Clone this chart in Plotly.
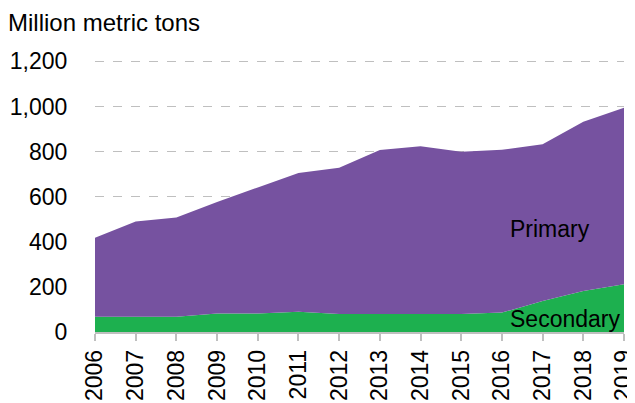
import plotly.graph_objects as go

years = [2006, 2007, 2008, 2009, 2010, 2011, 2012, 2013, 2014, 2015, 2016, 2017, 2018, 2019]
secondary = [68, 68, 68, 82, 82, 90, 80, 80, 80, 80, 86, 137, 182, 212]
primary = [350, 422, 440, 495, 559, 615, 648, 727, 744, 719, 722, 696, 750, 782]
y_ticks = [0, 200, 400, 600, 800, 1000, 1200]
y_tick_labels = ["0", "200", "400", "600", "800", "1,000", "1,200"]

FONT = "Liberation Sans, Arial, sans-serif"
FS = 23
W, H = 627, 395  # page body has an 8px offset
fig = go.Figure()
fig.add_trace(go.Scatter(x=years, y=secondary, stackgroup="one", mode="lines",
                         line=dict(width=0, color="#1DB04F"), fillcolor="#1DB04F",
                         name="Secondary"))
fig.add_trace(go.Scatter(x=years, y=primary, stackgroup="one", mode="lines",
                         line=dict(width=0, color="#7652A0"), fillcolor="#7652A0",
                         name="Primary"))

fig.update_layout(
    width=W, height=H,
    margin=dict(l=87, r=11, t=50, b=71, autoexpand=False),
    paper_bgcolor="white", plot_bgcolor="white",
    showlegend=False,
    font=dict(family=FONT, size=FS, color="#000000"),
    title=dict(text="Million metric tons", x=0, xanchor="left", xref="container",
               y=1-15/H, yanchor="middle", yref="container",
               font=dict(family=FONT, size=24, color="#000000")),
    xaxis=dict(range=[2006, 2019], tickvals=years, ticktext=[str(y) for y in years],
               tickangle=-90, showgrid=False, showline=True, linecolor="#BFBFBF",
               linewidth=1.5, ticks="outside", ticklen=7, tickcolor="#BFBFBF",
               tickwidth=1.5, zeroline=False, fixedrange=True, automargin=False,
               ticklabeloverflow="allow",
               tickfont=dict(family=FONT, size=FS, color="#000000")),
    yaxis=dict(range=[0, 1215], tickvals=y_ticks, ticktext=y_tick_labels,
               showgrid=True, gridcolor="#BFBFBF", griddash="dash", gridwidth=1,
               zeroline=False, showline=False, ticks="outside", ticklen=0,
               ticklabelstandoff=22, automargin=False,
               tickfont=dict(family=FONT, size=FS, color="#000000")),
    annotations=[
        dict(text="Primary", x=2017.17, y=457, xref="x", yref="y", showarrow=False,
             font=dict(family=FONT, size=FS, color="#000000")),
        dict(text="Secondary", x=2017.56, y=58, xref="x", yref="y", showarrow=False,
             font=dict(family=FONT, size=FS, color="#000000")),
    ],
)

fig.write_html("out.html")
